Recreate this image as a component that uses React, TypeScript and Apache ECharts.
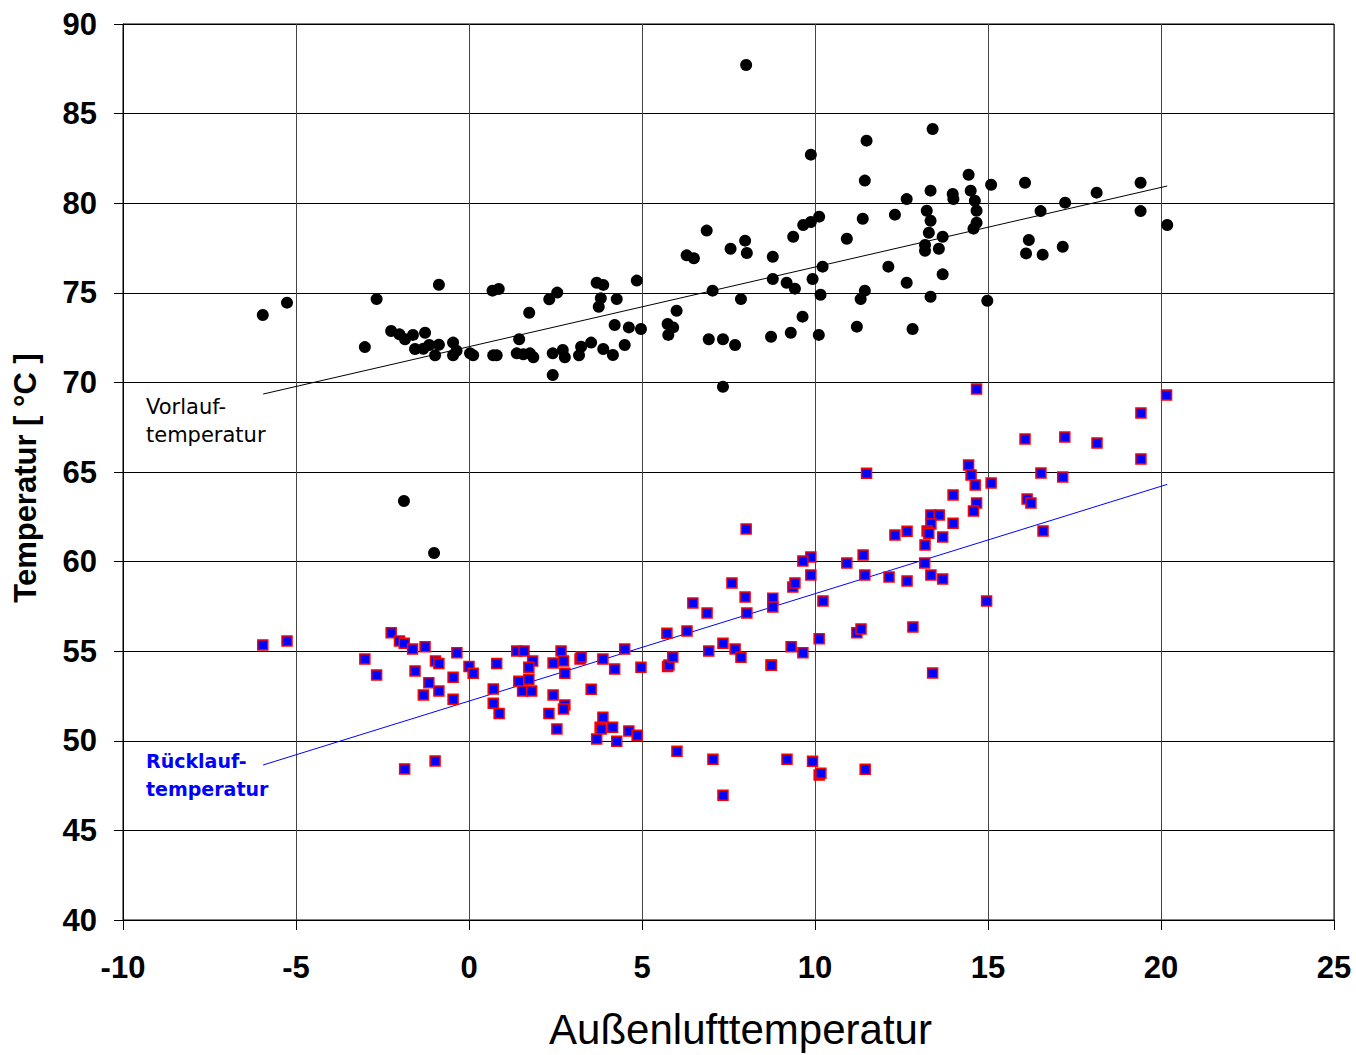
import React, { useEffect, useRef } from "react";
import * as echarts from "echarts";

// Vorlauftemperatur (supply) measured points [Außenluft, Temperatur]
const vorlauf: [number, number][] = [
  [-5.96, 73.76], [-5.26, 74.45], [-3.01, 71.97], [-2.67, 74.65], [-2.25, 72.87], [-2.01, 72.68],
  [-1.85, 72.41], [-1.62, 72.65], [-1.27, 72.77], [-1.56, 71.86], [-1.32, 71.88], [-1.15, 72.09],
  [-0.87, 72.1], [-0.98, 71.51], [-0.87, 75.45], [-0.46, 72.22], [-0.36, 71.77], [-0.46, 71.51],
  [0.03, 71.62], [0.12, 71.51], [0.7, 71.51], [0.8, 71.51], [0.68, 75.12], [0.86, 75.21],
  [1.74, 73.89], [1.45, 72.41], [1.38, 71.62], [1.57, 71.57], [1.76, 71.62], [1.86, 71.4],
  [2.32, 74.64], [2.55, 75.01], [2.42, 71.62], [2.71, 71.81], [2.77, 71.4], [2.42, 70.41],
  [3.18, 71.51], [3.24, 71.99], [3.53, 72.22], [3.88, 71.86], [4.16, 71.53], [4.5, 72.09],
  [3.69, 75.56], [3.88, 75.44], [3.81, 74.69], [3.75, 74.22], [4.27, 74.65], [4.85, 75.68],
  [4.21, 73.2], [4.62, 73.07], [4.97, 72.98], [5.74, 73.26], [5.9, 73.07], [5.76, 72.65],
  [6.0, 74.0], [6.93, 72.41], [7.34, 72.41], [7.69, 72.09], [7.04, 75.12], [7.86, 74.65],
  [8.73, 72.55], [8.78, 75.77], [7.34, 69.76], [6.29, 77.09], [6.5, 76.93],
  [13.4, 84.14], [11.49, 83.49], [9.88, 82.71], [11.44, 81.26], [14.44, 81.59], [15.09, 81.03],
  [16.07, 81.14], [13.34, 80.7], [13.98, 80.51], [14.0, 80.23], [14.5, 80.7], [14.62, 80.14],
  [12.65, 80.23], [13.23, 79.58], [13.34, 79.02], [14.67, 79.58], [14.67, 78.91], [14.58, 78.58],
  [13.29, 78.35], [13.69, 78.13], [13.18, 77.67], [13.18, 77.35], [13.58, 77.46], [12.31, 79.36],
  [11.38, 79.13], [10.92, 78.02], [10.12, 79.25], [9.88, 78.95], [9.66, 78.78], [9.37, 78.13],
  [6.87, 78.47], [7.56, 77.46], [7.98, 77.91], [8.03, 77.22], [8.78, 77.01], [9.18, 75.56],
  [9.42, 75.23], [9.93, 75.77], [10.22, 76.46], [12.12, 76.46], [12.65, 75.56], [13.69, 76.03],
  [14.98, 74.56], [13.34, 74.78], [11.44, 75.12], [11.32, 74.65], [10.16, 74.89], [9.64, 73.67],
  [9.3, 72.77], [10.11, 72.65], [11.21, 73.11], [12.82, 72.98], [16.18, 77.95], [16.1, 77.2],
  [19.41, 81.14], [18.14, 80.59], [17.23, 80.03], [16.52, 79.56], [19.41, 79.56], [20.18, 78.78],
  [16.58, 77.13], [17.16, 77.57],
  [8.01, 87.71], [-1.88, 63.38], [-1.01, 60.48],
];

// Rücklauftemperatur (return) measured points
const ruecklauf: [number, number][] = [
  [-5.96, 55.35], [-5.26, 55.57], [-3.01, 54.56], [-2.67, 53.67], [-2.25, 56.03], [-2.01, 55.57],
  [-1.87, 55.44], [-1.63, 55.12], [-1.27, 55.25], [-1.56, 53.9], [-0.97, 54.45], [-0.87, 54.32],
  [-1.16, 53.24], [-1.32, 52.56], [-0.87, 52.78], [-0.35, 54.92], [-0.46, 53.54], [-0.46, 52.32],
  [0.0, 54.14], [0.12, 53.77], [0.8, 54.32], [0.7, 52.89], [0.7, 52.09], [0.87, 51.53],
  [1.38, 55.01], [1.59, 55.01], [1.84, 54.45], [1.73, 54.1], [1.44, 53.33], [1.73, 53.43],
  [1.55, 52.78], [1.81, 52.78], [-1.86, 48.43], [-0.98, 48.87],
  [2.43, 52.56], [2.31, 51.53], [2.54, 50.66], [2.43, 54.34], [2.66, 55.01], [2.73, 54.45],
  [2.77, 53.77], [2.77, 52.0], [2.73, 51.77], [3.21, 54.56], [3.24, 54.68], [3.53, 52.87],
  [3.87, 54.56], [4.21, 54.0], [4.5, 55.12], [4.97, 54.1], [3.87, 51.31], [3.79, 50.75],
  [3.82, 50.66], [4.15, 50.75], [3.69, 50.1], [4.27, 49.97], [4.62, 50.55], [4.86, 50.31],
  [5.72, 56.0], [6.3, 56.13], [5.74, 54.14], [5.78, 54.23], [5.89, 54.68], [6.93, 55.01],
  [7.34, 55.44], [7.69, 55.12], [7.86, 54.66], [8.73, 54.23], [6.01, 49.41], [7.05, 48.97],
  [7.34, 46.96],
  [6.47, 57.69], [6.88, 57.13], [7.6, 58.81], [7.98, 58.02], [8.03, 57.13], [8.01, 61.82],
  [14.67, 69.63], [20.16, 69.3], [19.42, 68.29], [16.07, 66.84], [17.22, 66.95], [18.15, 66.62],
  [19.42, 65.73], [11.49, 64.93], [14.44, 65.39], [14.51, 64.83], [14.63, 64.27], [15.09, 64.39],
  [16.53, 64.94], [17.16, 64.72], [13.99, 63.72], [14.67, 63.27], [14.58, 62.82], [16.13, 63.49],
  [16.24, 63.27], [16.59, 61.71], [13.35, 62.6], [13.59, 62.6], [13.35, 62.1], [13.99, 62.14],
  [13.24, 61.71], [13.29, 61.58], [12.66, 61.69], [12.31, 61.48], [13.69, 61.37], [13.18, 60.93],
  [11.39, 60.37], [9.88, 60.26], [9.65, 60.03], [10.92, 59.92], [13.17, 59.92], [9.88, 59.25],
  [11.44, 59.25], [12.14, 59.14], [12.66, 58.92], [13.35, 59.25], [13.69, 59.03], [9.36, 58.58],
  [9.42, 58.81], [8.78, 57.95], [8.78, 57.47], [10.23, 57.8], [14.96, 57.8],
  [11.21, 56.03], [11.33, 56.24], [12.83, 56.35], [10.12, 55.69], [9.31, 55.25], [9.65, 54.92],
  [8.74, 54.21], [13.4, 53.78], [9.19, 48.97], [9.93, 48.86], [10.12, 48.09], [10.17, 48.19],
  [11.45, 48.41],
];

// Trend lines (endpoints)
const trendX = [-5.95, 20.18];
const vorlaufFit = [69.35, 80.96];
const ruecklaufFit = [48.65, 64.31];

// Axis ranges / ticks
const xMin = -10, xMax = 25, xStep = 5;
const yMin = 40, yMax = 90, yStep = 5;

const xName = "Außenlufttemperatur";
const yName = "Temperatur [ °C ]";
const vorlaufLabel = "Vorlauf-\ntemperatur";
const ruecklaufLabel = "Rücklauf-\ntemperatur";

export default function App() {
  const ref = useRef<HTMLDivElement>(null);
  useEffect(() => {
    if (!ref.current) return;
    const chart = echarts.init(ref.current, null, { renderer: "svg" });
    const font = "Arial, 'Liberation Sans', sans-serif";
    chart.setOption({
      animation: false,
      backgroundColor: "#ffffff",
      grid: {
        left: 123, right: 22, top: 24, bottom: 135,
        show: true, borderColor: "#000", borderWidth: 1, backgroundColor: "transparent",
      },
      xAxis: {
        type: "value", min: xMin, max: xMax, interval: xStep,
        name: xName, nameLocation: "middle", nameGap: 88,
        nameTextStyle: { fontFamily: font, fontSize: 42, color: "#000", padding: [0, 0, 0, 24] },
        axisLine: { show: true, onZero: false, lineStyle: { color: "#000", width: 1 } },
        axisTick: { show: true, length: 10, lineStyle: { color: "#000" } },
        axisLabel: { fontFamily: font, fontWeight: "bold", fontSize: 31, color: "#000", margin: 32 },
        splitLine: { show: true, lineStyle: { color: "#444", width: 1 } },
      },
      yAxis: {
        type: "value", min: yMin, max: yMax, interval: yStep,
        name: yName, nameLocation: "middle", nameGap: 82, nameRotate: 90,
        nameTextStyle: { fontFamily: font, fontWeight: "bold", fontSize: 31, color: "#000", padding: [0, 0, 0, -12] },
        axisLine: { show: true, onZero: false, lineStyle: { color: "#000", width: 1 } },
        axisTick: { show: true, length: 9, lineStyle: { color: "#000" } },
        axisLabel: { fontFamily: font, fontWeight: "bold", fontSize: 31, color: "#000", margin: 26 },
        splitLine: { show: true, lineStyle: { color: "#000", width: 1 } },
      },
      series: [
        {
          type: "line", data: trendX.map((x, i) => [x, vorlaufFit[i]]),
          symbol: "none", lineStyle: { color: "#000", width: 1 }, z: 2, silent: true,
        },
        {
          type: "line", data: trendX.map((x, i) => [x, ruecklaufFit[i]]),
          symbol: "none", lineStyle: { color: "#0000ff", width: 1 }, z: 2, silent: true,
        },
        {
          type: "scatter", data: vorlauf, symbol: "circle", symbolSize: 12,
          itemStyle: { color: "#000", opacity: 1 }, z: 3,
        },
        {
          type: "scatter", data: ruecklauf, symbol: "rect", symbolSize: 10,
          itemStyle: { color: "#0000ff", borderColor: "#ff0000", borderWidth: 1.5, opacity: 1 }, z: 3,
        },
      ],
      graphic: [
        {
          type: "text", left: 146, top: 393, z: 10,
          style: {
            text: vorlaufLabel, fontFamily: "'DejaVu Sans', sans-serif", fontSize: 21,
            lineHeight: 28, fill: "#000",
          },
        },
        {
          type: "text", left: 146, top: 747, z: 10,
          style: {
            text: ruecklaufLabel, fontFamily: "'DejaVu Sans', sans-serif", fontWeight: "bold",
            fontSize: 19, lineHeight: 28, fill: "#0000ff",
          },
        },
      ],
    });
    return () => chart.dispose();
  }, []);
  return (
    <div
      ref={ref}
      style={{ position: "fixed", left: 0, top: 0, width: 1356, height: 1055, background: "#fff" }}
    />
  );
}
